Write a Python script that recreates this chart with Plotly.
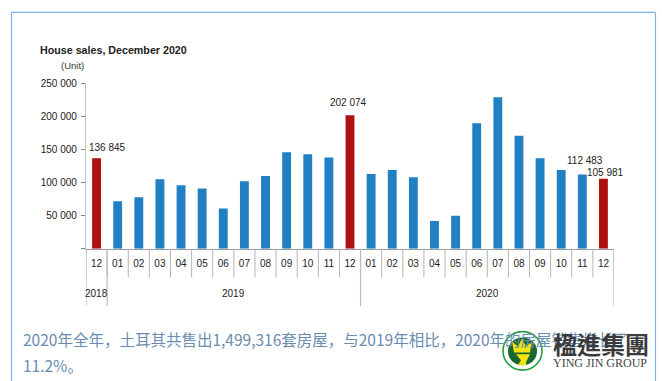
import plotly.graph_objects as go

months = ["12", "01", "02", "03", "04", "05", "06", "07", "08", "09", "10", "11", "12",
          "01", "02", "03", "04", "05", "06", "07", "08", "09", "10", "11", "12"]
values = [136845, 72000, 78000, 105000, 96000, 91000, 61000, 102000, 110000, 146000, 143000, 138000, 202074,
          113000, 119000, 108000, 42000, 50000, 190000, 229000, 171000, 137000, 119000, 112483, 105981]
labels = {0: ("136 845", 11, 3), 12: ("202 074", -2, 5), 23: ("112 483", 3, 6), 24: ("105 981", 2, -1)}
highlighted = [0, 12, 24]
y_ticks = [0, 50000, 100000, 150000, 200000, 250000]
y_tick_labels = ["", "50 000", "100 000", "150 000", "200 000", "250 000"]
years = [("2018", 0), ("2019", 6.5), ("2020", 18.5)]
year_edges = [-0.5, 0.5, 12.5, 24.5]

W, H = 662, 381
FONT = "Liberation Sans"
px = lambda x: x / W
py = lambda y: 1 - y / H

colors = ["#af1111" if i in highlighted else "#2180c4" for i in range(len(values))]
idx = list(range(len(values)))

fig = go.Figure(go.Bar(x=idx, y=values, marker=dict(color=colors, line_width=0), width=0.42))

shapes = []
def vline(i, y0, y1, col="#b4b4b4", w=1):
    shapes.append(dict(type="line", xref="x", yref="paper", x0=i, x1=i, y0=py(y0), y1=py(y1),
                       line=dict(color=col, width=w)))
for i in range(len(values) + 1):
    vline(i - 0.5, 247, 276)
for e in year_edges:
    vline(e, 247, 305, "#bdbdbd", 1.2)

for a, b, c, d in [(11.5, 7.5, 655.5, 7.5), (11.5, 7.5, 11.5, 381), (655.5, 7.5, 655.5, 381)]:
    shapes.append(dict(type="line", xref="paper", yref="paper", x0=px(a), y0=py(b), x1=px(c), y1=py(d),
                       line=dict(color="#7ab4ea", width=1.2)))

annotations = []
def text(x, y, s, size=10, color="#222222", family=FONT, anchor="center", bold=False):
    annotations.append(dict(xref="paper", yref="paper", x=px(x), y=py(y), text=f"<b>{s}</b>" if bold else s,
                            showarrow=False, xanchor=anchor, yanchor="middle",
                            font=dict(size=size, color=color, family=family)))

for i, (s, dx, dy) in labels.items():
    annotations.append(dict(xref="x", yref="y", x=i, y=values[i], text=s, showarrow=False, yanchor="bottom",
                            xshift=dx, yshift=dy, font=dict(size=10, color="#222222", family=FONT)))
for s, x in years:
    annotations.append(dict(xref="x", yref="paper", x=x, y=py(292), text=s, showarrow=False, yanchor="middle",
                            font=dict(size=10, color="#222222", family=FONT)))

text(37.5, 46, "House sales, December 2020", 10.7, "#222222", anchor="left", bold=True)
text(59, 61, "(Unit)", 9.5, "#333333", anchor="left")

CJK = "Noto Sans CJK SC"
text(21, 338.5, "2020年全年，土耳其共售出1,499,316套房屋，与2019年相比，2020年的房屋销售增长了", 15.5, "#6a8db0", CJK, "left")
text(21, 364.5, "11.2%。", 15.5, "#6a8db0", CJK, "left")

shapes.append(dict(type="circle", xref="paper", yref="paper", x0=px(503), x1=px(542), y0=py(370), y1=py(331),
                   fillcolor="white", line=dict(color="#1fa33a", width=1.6)))
shapes.append(dict(type="circle", xref="paper", yref="paper", x0=px(508), x1=px(537), y0=py(365), y1=py(337),
                   fillcolor="#17672f", line_width=0))
shapes.append(dict(type="path", xref="paper", yref="paper",
                   path=f"M {px(514)} {py(352)} L {px(512)} {py(341)} L {px(518)} {py(346)} L {px(522)} {py(338)} "
                        f"L {px(526)} {py(346)} L {px(532)} {py(341)} L {px(530)} {py(352)} Z",
                   fillcolor="#f3e40c", line_width=0))
shapes.append(dict(type="path", xref="paper", yref="paper",
                   path=f"M {px(516)} {py(354)} L {px(530)} {py(354)} L {px(526)} {py(362)} L {px(526)} {py(365)} "
                        f"L {px(518)} {py(365)} L {px(521)} {py(360)} Z",
                   fillcolor="#f3e40c", line_width=0))
text(551, 342.5, "楹進集團", 24, "#3a3a3a", "Noto Sans CJK TC", "left", True)
text(551, 362.5, "YING JIN GROUP", 12, "#444444", "Liberation Serif", "left")

fig.update_layout(
    width=W, height=H, margin=dict(l=0, r=0, t=0, b=0), autosize=False,
    paper_bgcolor="white", plot_bgcolor="white", showlegend=False, bargap=0.6,
    shapes=shapes, annotations=annotations,
    xaxis=dict(domain=[px(86), px(614)], range=[-0.5, 24.5], tickmode="array", tickvals=idx, ticktext=months,
               ticks="", showgrid=False, zeroline=False, showline=True, linecolor="#9a9a9a", linewidth=1,
               tickfont=dict(size=10, color="#222222", family=FONT), ticklabelstandoff=5),
    yaxis=dict(domain=[py(247), py(79.5)], range=[0, 250000], tickmode="array", tickvals=y_ticks,
               ticktext=y_tick_labels, ticks="outside", ticklen=4, tickcolor="#888888", showgrid=False,
               zeroline=False, showline=True, linecolor="#c4c4c4", linewidth=1.2,
               tickfont=dict(size=10, color="#222222", family=FONT), ticklabelstandoff=2),
)
fig.write_html("out.html", config={"displayModeBar": False},
               post_script="document.body.style.margin='0';document.documentElement.style.overflow='hidden';")
